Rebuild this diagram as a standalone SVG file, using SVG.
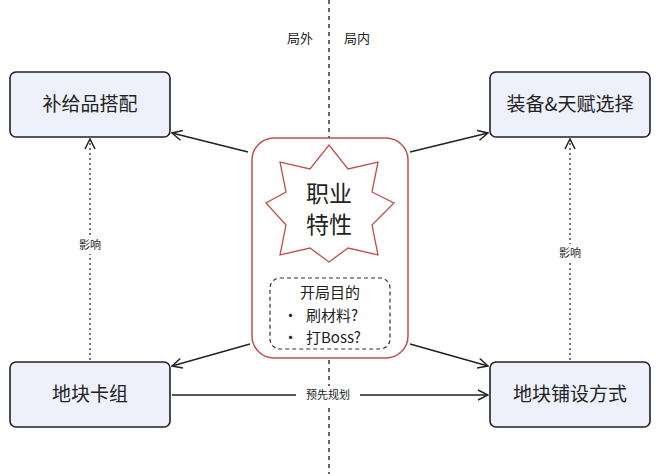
<svg xmlns="http://www.w3.org/2000/svg" width="660" height="474" viewBox="0 0 660 474">
<defs>
<marker id="ah" viewBox="0 0 12 12" refX="11" refY="6" markerWidth="12" markerHeight="12" markerUnits="userSpaceOnUse" orient="auto"><path d="M1,1 L11,6 L1,11" fill="none" stroke="#222" stroke-width="1.5"/></marker>
<style>
text{font-family:"Noto Sans CJK SC","Noto Sans",sans-serif;fill:#222}
.box{fill:#eef0fb;stroke:#222;stroke-width:1.6}
.big{font-size:19px}
.sm{font-size:11px}
.ln{stroke:#222;stroke-width:1.5;fill:none;marker-end:url(#ah)}
.dot{stroke:#222;stroke-width:1.2;stroke-dasharray:2 3;fill:none;marker-end:url(#ah)}
</style>
</defs>
<rect width="660" height="474" fill="#fff"/>
<line x1="329" y1="0" x2="329" y2="474" stroke="#333" stroke-width="1.5" stroke-dasharray="4 4"/>
<text x="300" y="43" font-size="13" text-anchor="middle">局外</text>
<text x="357" y="43" font-size="13" text-anchor="middle">局内</text>
<g id="connectors">
<line class="ln" x1="248" y1="152" x2="172" y2="133"/>
<line class="ln" x1="410" y1="152" x2="488" y2="133"/>
<line class="ln" x1="250" y1="344" x2="172" y2="366"/>
<line class="ln" x1="410" y1="344" x2="488" y2="366"/>
<line class="ln" x1="172" y1="395" x2="488" y2="395"/>
<rect x="296" y="386" width="64" height="18" fill="#fff"/>
<text class="sm" x="328" y="399" text-anchor="middle">预先规划</text>
<line class="dot" x1="90" y1="360" x2="90" y2="139"/>
<line class="dot" x1="570" y1="360" x2="570" y2="139"/>
<rect x="72" y="236" width="36" height="18" fill="#fff"/>
<text class="sm" x="90" y="249" text-anchor="middle">影响</text>
<rect x="552" y="244" width="36" height="18" fill="#fff"/>
<text class="sm" x="570" y="257" text-anchor="middle">影响</text>
</g>
<g id="n1"><rect class="box" x="10" y="72" width="160" height="65" rx="6"/><text class="big" x="90" y="111" text-anchor="middle">补给品搭配</text></g>
<g id="n2"><rect class="box" x="490" y="72" width="160" height="65" rx="6"/><text class="big" x="570" y="111" text-anchor="middle">装备&amp;天赋选择</text></g>
<g id="n3"><rect class="box" x="10" y="362" width="160" height="65" rx="6"/><text class="big" x="90" y="401" text-anchor="middle">地块卡组</text></g>
<g id="n4"><rect class="box" x="490" y="362" width="160" height="65" rx="6"/><text class="big" x="570" y="401" text-anchor="middle">地块铺设方式</text></g>
<g id="center">
<rect x="252" y="138" width="156" height="220" rx="22" fill="#fff" stroke="#c0504d" stroke-width="1.5"/>
<path d="M329,145 L348,169 L378,162 L372,192 L394,203 L372,225 L378,255 L348,248 L329,262 L310,248 L280,255 L286,225 L266,203 L286,192 L280,162 L310,169 Z" fill="#fff" stroke="#c0504d" stroke-width="1.3"/>
<text x="329" y="202" font-size="23" text-anchor="middle">职业</text>
<text x="329" y="233" font-size="23" text-anchor="middle">特性</text>
<rect x="270" y="278" width="120" height="71" rx="10" fill="#fff" stroke="#333" stroke-width="1.2" stroke-dasharray="4 3"/>
<text x="330" y="298" font-size="15" text-anchor="middle">开局目的</text>
<text x="283" y="321" font-size="15">•</text>
<text x="306" y="321" font-size="15">刷材料?</text>
<text x="283" y="343" font-size="15">•</text>
<text x="306" y="343" font-size="15">打Boss?</text>
</g>
</svg>
